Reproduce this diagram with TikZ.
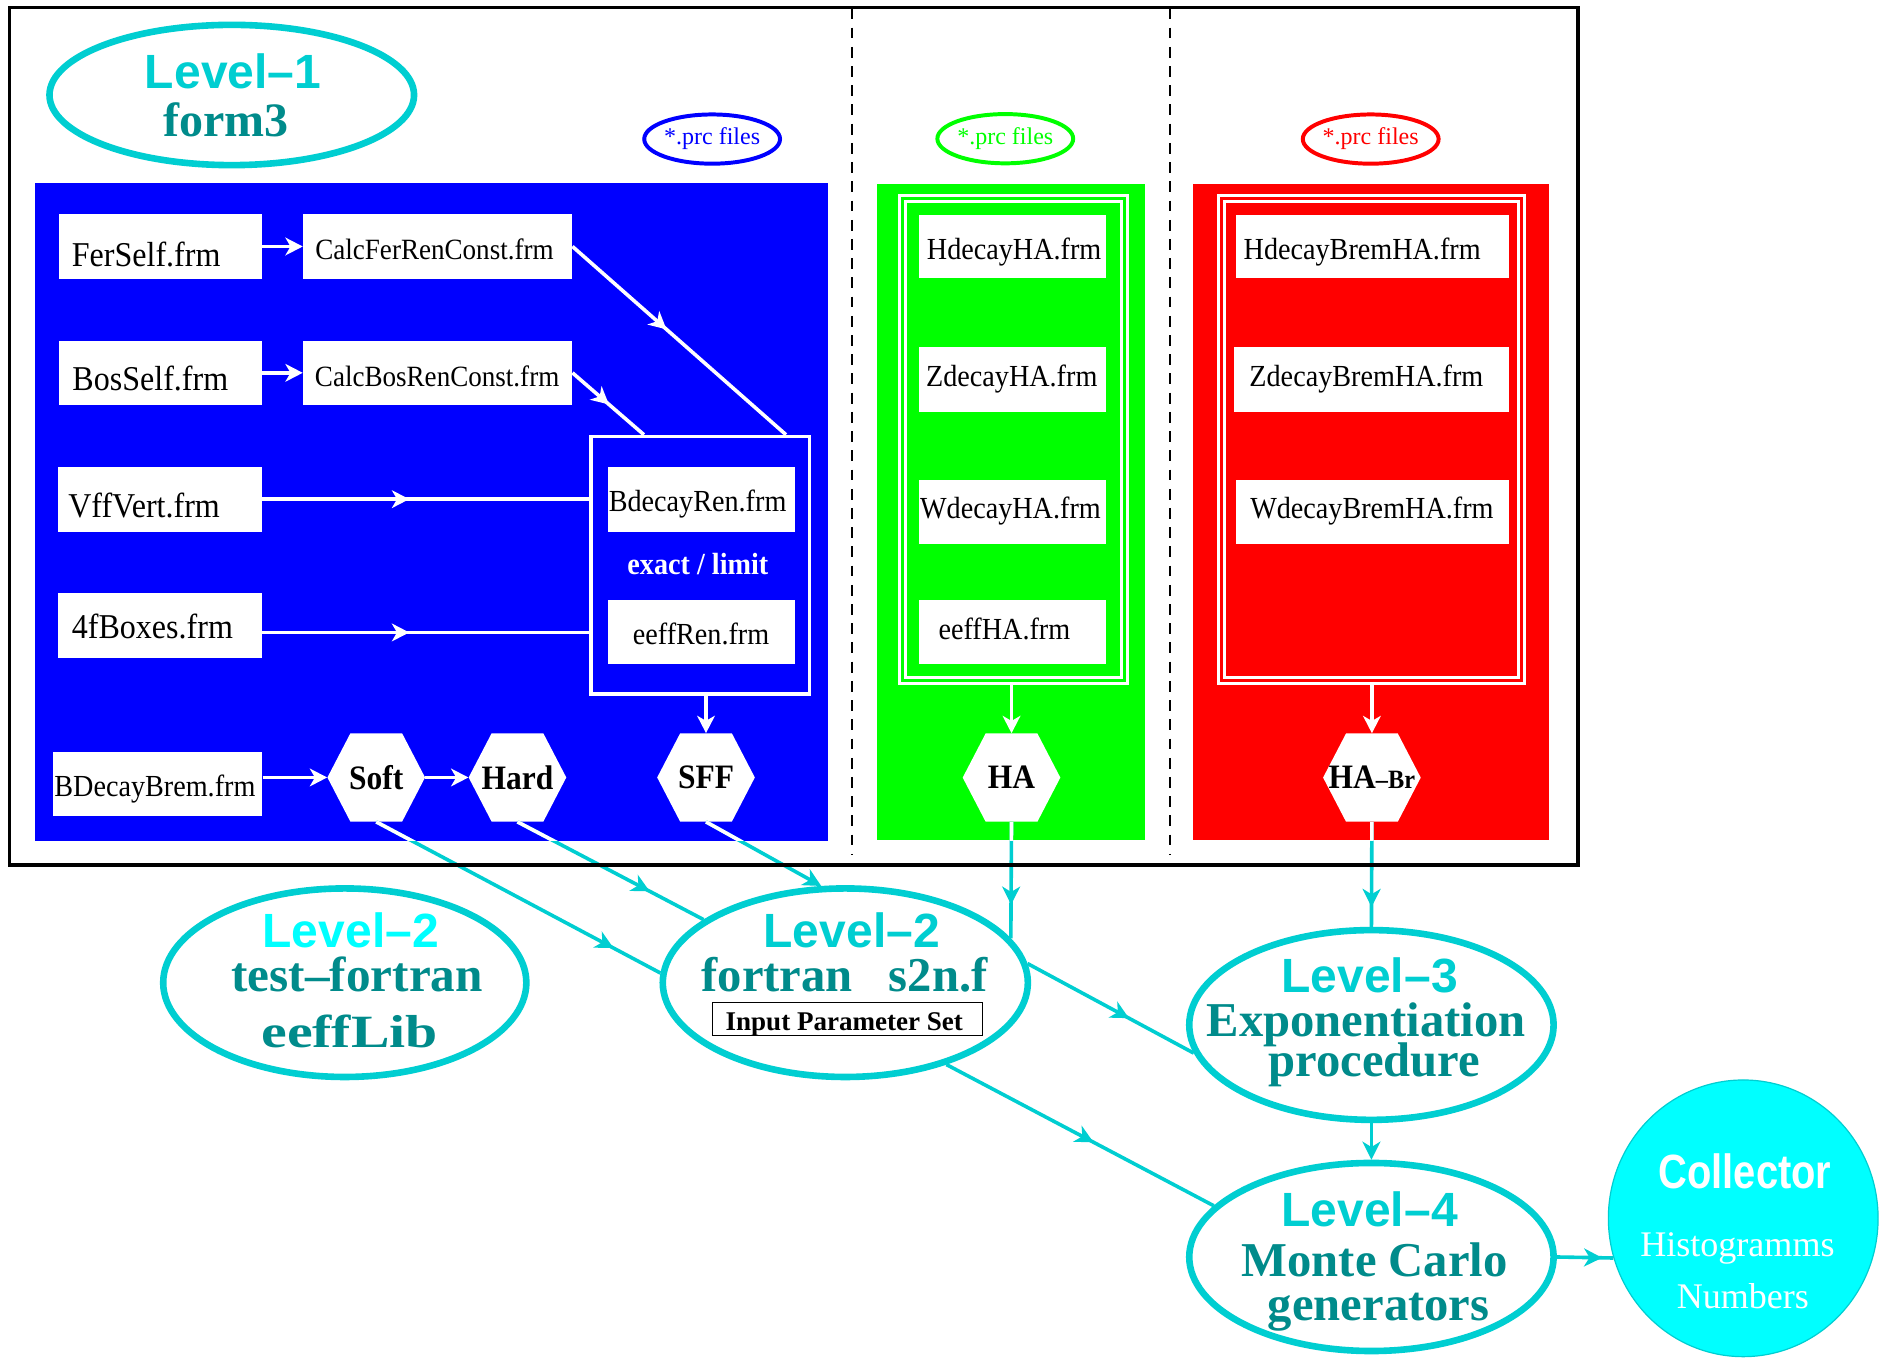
\documentclass[tikz,border=0pt]{standalone}
\usepackage{fontspec}
\setmainfont{Liberation Serif}
\newfontfamily\tmc{Liberation Serif}[FakeStretch=0.92]
\newfontfamily\tmw{Liberation Serif}[FakeStretch=1.25]
\newfontfamily\hv{Liberation Sans}
\newfontfamily\hvc{Liberation Sans}[FakeStretch=0.83]
\usetikzlibrary{shapes.geometric,arrows.meta,decorations.markings,calc}
\newcommand\fsz[1]{\fontsize{#1}{#1}\selectfont}
\definecolor{dturq}{RGB}{0,206,209}
\definecolor{dcyan}{RGB}{0,139,139}
\definecolor{aqua}{RGB}{0,255,255}
\definecolor{pblue}{RGB}{0,0,255}
\definecolor{pgreen}{RGB}{0,255,0}
\definecolor{pred}{RGB}{255,0,0}
\tikzset{
  wtip/.tip={Stealth[length=14.4pt,width=14.7pt,inset=4.2pt]},
  ctip/.tip={Stealth[length=15pt,width=15pt,inset=4.5pt]},
  wbox/.style={fill=white, inner sep=0pt},
  lbl/.style={inner sep=0pt, anchor=base},
  wline/.style={white, line width=3pt},
  cline/.style={dturq, line width=3pt},
  midw/.style={postaction={decorate}, decoration={markings, mark=at position #1 with {\arrow{wtip}}}},
  midc/.style={postaction={decorate}, decoration={markings, mark=at position #1 with {\arrow{ctip}}}},
  hexlbl/.style={minimum width=81.3pt, minimum height=73.5pt, inner sep=0pt, font={\tmc\bfseries\fsz{28.5}}},
  lvl/.style={ellipse, draw=dturq, line width=5.5pt, inner sep=0pt},
  prc/.style={ellipse, line width=3.3pt, minimum width=110.4pt, minimum height=41pt, inner sep=0pt, font=\fsz{20}},
  region/.style={inner sep=0pt},
  dbox/.style={draw=white, line width=2.6pt, double distance=2.3pt, inner sep=0pt},
  bluetxt/.style={lbl, font={\tmc\fsz{29}}},
  smalltxt/.style={lbl, font={\tmc\fsz{25.5}}},
  calctxt/.style={lbl, font={\tmc\fsz{24.5}}},
  bigtxt/.style={lbl, font={\bfseries\fsz{40.5}}, text=dcyan},
  lvltxt/.style={lbl, font={\hv\bfseries\fsz{40}}, text=dturq},
}
\newcommand\hexnode[4]{%
  \fill[white] (#2-40.65,#3) -- (#2-21.55,#3-36.75) -- (#2+21.55,#3-36.75) -- (#2+40.65,#3)
     -- (#2+21.55,#3+36.75) -- (#2-21.55,#3+36.75) -- cycle;
  \node[hexlbl] (#1) at (#2,#3) {#4};}
\begin{document}
\begin{tikzpicture}[x=1pt,y=-1pt]
\useasboundingbox (0,0) rectangle (1568,1130);
\fill[white] (0,0) rectangle (1568,1130);

% dashed separators
\draw[line width=1.5pt, dash pattern=on 9pt off 7pt] (709.5,7) -- (709.5,712);
\draw[line width=1.5pt, dash pattern=on 9pt off 7pt] (974.3,7) -- (974.3,712);

% coloured regions
\node[region, fill=pblue, minimum width=660.4pt, minimum height=547.3pt] (blueR) at (359.5,426.35) {};
\node[region, fill=pgreen, minimum width=222.7pt, minimum height=546pt] (greenR) at (841.85,426.5) {};
\node[region, fill=pred, minimum width=296.7pt, minimum height=546.8pt] (redR) at (1141.75,426.4) {};

% Level-1
\node[lvl, minimum width=303.6pt, minimum height=116.8pt] (lev1) at (193,79.1) {};
\node[lvltxt] (lev1a) at (194.1,73.6) {Level–1};
\node[lbl, font={\bfseries\fsz{40}}, text=dcyan] (lev1b) at (188,113.8) {form3};

% prc ellipses
\node[prc, draw=pblue, text=pblue] (prcB) at (593,115.8) {*.prc files};
\node[prc, draw=pgreen, text=pgreen] (prcG) at (837.1,115.5) {*.prc files};
\node[prc, draw=pred, text=pred] (prcR) at (1141.4,115.8) {*.prc files};

% blue region boxes
\node[wbox, minimum width=169.2pt, minimum height=54.1pt] (ferself) at (133.4,205.25) {};
\node[bluetxt] (ferselfT) at (121.75,221.5) {FerSelf.frm};
\node[wbox, minimum width=224.2pt, minimum height=54.1pt] (calcfer) at (364.4,205.25) {};
\node[calctxt] (calcferT) at (361.8,216) {CalcFerRenConst.frm};
\node[wbox, minimum width=169.2pt, minimum height=53.5pt] (bosself) at (133.4,310.45) {};
\node[bluetxt] (bosselfT) at (125.2,325.3) {BosSelf.frm};
\node[wbox, minimum width=224.2pt, minimum height=53.5pt] (calcbos) at (364.4,310.45) {};
\node[calctxt] (calcbosT) at (364,322) {CalcBosRenConst.frm};
\node[wbox, minimum width=169.3pt, minimum height=54.1pt] (vff) at (133.35,415.65) {};
\node[bluetxt] (vffT) at (120,430.8) {VffVert.frm};
\node[wbox, minimum width=169.3pt, minimum height=53.5pt] (fourf) at (133.35,520.85) {};
\node[bluetxt] (fourfT) at (126.9,531.6) {4fBoxes.frm};
\node[wbox, minimum width=174.6pt, minimum height=53.2pt] (bdb) at (131.1,652.6) {};
\node[smalltxt] (bdbT) at (129,663.4) {BDecayBrem.frm};

\node[draw=white, line width=3pt, inner sep=0pt, minimum width=181.9pt, minimum height=214.3pt] (renbox) at (583.05,470.65) {};
\node[wbox, minimum width=155.2pt, minimum height=54.1pt] (bren) at (584,415.65) {};
\node[smalltxt] (brenT) at (580.9,426) {BdecayRen.frm};
\node[lbl, font={\tmc\bfseries\fsz{25.5}}, text=white] (exlim) at (581.1,478) {exact / limit};
\node[wbox, minimum width=155.2pt, minimum height=53.6pt] (eren) at (584,526.4) {};
\node[smalltxt] (erenT) at (583.8,536.5) {eeffRen.frm};

% green region
\node[dbox, double=pgreen, minimum width=184.65pt, minimum height=401.5pt] (gbox) at (844.1,365.75) {};
\node[wbox, minimum width=155.7pt, minimum height=53.1pt] (hha) at (843.05,205.35) {};
\node[smalltxt] (hhaT) at (844.5,216) {HdecayHA.frm};
\node[wbox, minimum width=155.7pt, minimum height=54pt] (zha) at (843.05,315.8) {};
\node[smalltxt] (zhaT) at (842.5,322) {ZdecayHA.frm};
\node[wbox, minimum width=155.7pt, minimum height=53.1pt] (wha) at (843.05,426.25) {};
\node[smalltxt] (whaT) at (841.4,432) {WdecayHA.frm};
\node[wbox, minimum width=155.7pt, minimum height=53.7pt] (eha) at (843.05,526.25) {};
\node[smalltxt] (ehaT) at (836.4,532.3) {eeffHA.frm};

% red region
\node[dbox, double=pred, minimum width=249.6pt, minimum height=401.5pt] (rbox) at (1142.15,365.75) {};
\node[wbox, minimum width=227pt, minimum height=53.1pt] (hbr) at (1142.8,205.35) {};
\node[smalltxt] (hbrT) at (1134.3,216) {HdecayBremHA.frm};
\node[wbox, minimum width=229pt, minimum height=54pt] (zbr) at (1141.8,315.8) {};
\node[smalltxt] (zbrT) at (1137.8,322) {ZdecayBremHA.frm};
\node[wbox, minimum width=227pt, minimum height=53.1pt] (wbr) at (1142.8,426.25) {};
\node[smalltxt] (wbrT) at (1142.4,432) {WdecayBremHA.frm};

% hexagons
\hexnode{soft}{313.3}{647.4}{Soft}
\hexnode{hard}{430.9}{647.4}{Hard}
\hexnode{sff}{587.9}{647.4}{SFF}
\hexnode{ha}{842.3}{647.5}{HA}
\hexnode{habr}{1142.4}{647.5}{HA{\fsz{22}–Br}}

% white connectors in blue/green/red
\draw[wline, -{wtip}] (ferself.east) -- (calcfer.west);
\draw[wline, -{wtip}] (bosself.east) -- (calcbos.west);
\draw[wline, midw=0.44] (calcfer.east) -- ([xshift=-21pt]renbox.north east);
\draw[wline, midw=0.51] (calcbos.east) -- ([xshift=45.6pt]renbox.north west);
\draw[wline, midw=0.45] (vff.east) -- (vff.east -| renbox.west);
\draw[wline, midw=0.45] ($(fourf.east)+(0,5.8)$) -- ($(fourf.east -| renbox.west)+(0,5.8)$);
\draw[wline, -{wtip}] (bdb.east |- soft.west) -- (soft.west);
\draw[wline, -{wtip}] (soft.east) -- (hard.west);
\draw[wline, -{wtip}] (sff.north |- renbox.south) -- (sff.north);
\draw[wline, -{wtip}] (ha.north |- gbox.south) -- (ha.north);
\draw[wline, -{wtip}] (habr.north |- rbox.south) -- (habr.north);

% lower ellipses
\node[lvl, minimum width=302.4pt, minimum height=157pt] (test) at (287.1,818.3) {};
\node[lbl, font={\hv\bfseries\fsz{40}}, text=aqua] (testA) at (292,788.9) {Level–2};
\node[lbl, font={\bfseries\fsz{41}}, text=dcyan] (testB) at (297.4,825.4) {test–fortran};
\node[lbl, font={\tmw\bfseries\fsz{38.5}}, text=dcyan] (testC) at (291.2,872.5) {eeffLib};

\node[lvl, minimum width=304pt, minimum height=157pt] (fortran) at (703.9,818.3) {};
\node[lvltxt] (fortA) at (709.2,788.9) {Level–2};
\node[bigtxt] (fortB) at (703.3,825.4) {fortran\hspace{30pt}s2n.f};
\node[draw=black, line width=1pt, inner sep=0pt, minimum width=225.1pt, minimum height=27.8pt] (ips) at (705.75,848.5) {};
\node[lbl, font={\bfseries\fsz{22.5}}] (ipsT) at (703,857.7) {Input Parameter Set};

\node[lvl, minimum width=303.4pt, minimum height=158pt] (l3) at (1142,853.5) {};
\node[lvltxt] (l3A) at (1140.5,826.8) {Level–3};
\node[bigtxt] (l3B) at (1137.5,863) {Exponentiation};
\node[bigtxt] (l3C) at (1144.5,896.7) {procedure};

\node[lvl, minimum width=303.4pt, minimum height=156.6pt] (l4) at (1142,1046.7) {};
\node[lvltxt] (l4A) at (1140.5,1021.6) {Level–4};
\node[bigtxt] (l4B) at (1144.7,1063) {Monte Carlo};
\node[bigtxt] (l4C) at (1148,1099.2) {generators};

\node[ellipse, fill=aqua, draw=dturq, line width=1pt, inner sep=0pt, minimum width=224.6pt, minimum height=230.4pt] (coll) at (1451.6,1014.5) {};
\node[lbl, font={\hvc\bfseries\fsz{40}}, text=white] (collA) at (1453,989.5) {Collector};
\node[lbl, font=\fsz{30}, text=white] (collB) at (1446.8,1046.5) {Histogramms};
\node[lbl, font=\fsz{30}, text=white] (collC) at (1451.3,1089.5) {Numbers};

% cyan connectors
\draw[cline, midc=0.835] (soft.south) -- (fortran.177.4);
\draw[cline, midc=0.71] (hard.south) -- (fortran.156.8);
\draw[cline, -{ctip}] (sff.south) -- (fortran.104.1);
\draw[cline, midc=0.71] (ha.south) -- (fortran.15.1);
\draw[cline, midc=0.81] (habr.south) -- (l3.north);
\draw[cline, midc=0.61] (fortran.6.9) -- (l3.189);
\draw[cline, midc=0.55] (fortran.321.1) -- (l4.162);
\draw[cline, -{ctip}] (l3.south) -- (l4.north);
\draw[cline, midc=0.80] (l4.east) -- (coll.197);

% white parts inside the coloured regions
\begin{scope}
  \clip (blueR.south west) rectangle (blueR.north east);
  \draw[wline] (soft.south) -- (fortran.177.4);
  \draw[wline] (hard.south) -- (fortran.156.8);
  \draw[wline] (sff.south) -- (fortran.104.1);
\end{scope}
\begin{scope}
  \clip (greenR.south west) rectangle (greenR.north east);
  \draw[wline] (ha.south) -- (fortran.15.1);
\end{scope}
\begin{scope}
  \clip (redR.south west) rectangle (redR.north east);
  \draw[wline] (habr.south) -- (l3.north);
\end{scope}

% outer frame
\draw[line width=2.8pt] (8.1,6.1) rectangle (1313.9,720.3);
\end{tikzpicture}
\end{document}
